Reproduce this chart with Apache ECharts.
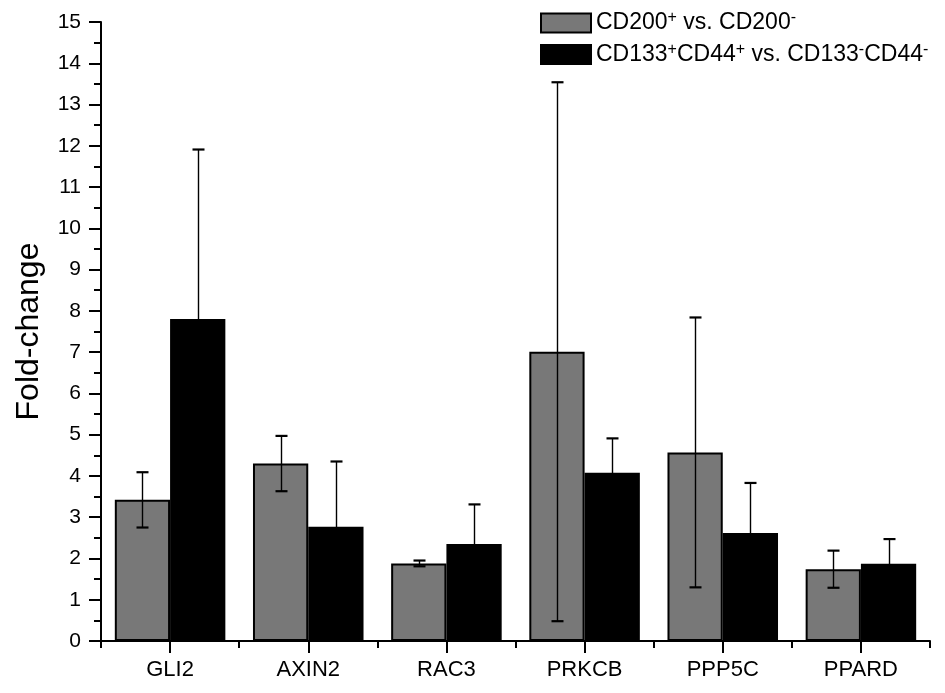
<!DOCTYPE html>
<html>
<head>
<meta charset="utf-8">
<script src="https://cdn.jsdelivr.net/npm/echarts@6/dist/echarts.min.js"></script>
<style>
html,body{margin:0;padding:0;background:#fff;}
#chart{width:945px;height:693px;}
</style>
</head>
<body>
<div id="chart"></div>
<script>
var categories = ['GLI2', 'AXIN2', 'RAC3', 'PRKCB', 'PPP5C', 'PPARD'];
var cd200Values = [3.42, 4.30, 1.88, 7.01, 4.57, 1.74];
var cd200Errors = [0.67, 0.67, 0.07, 6.53, 3.27, 0.45];
var cd133Values = [7.80, 2.77, 2.35, 4.08, 2.62, 1.87];
var cd133Errors = [4.11, 1.58, 0.96, 0.83, 1.21, 0.60];
var yTicks = [0, 15, 1];
var seriesNames = ['CD200+ vs. CD200-', 'CD133+CD44+ vs. CD133-CD44-'];

var FONT = '"Liberation Sans", Arial, sans-serif';
var chart = echarts.init(document.getElementById('chart'));

function errData(vals, errs) {
  return vals.map(function (v, i) { return [i, v, errs[i]]; });
}
function makeErr(side) {
  return function (params, api) {
    var idx = api.value(0), v = api.value(1), e = api.value(2);
    var band = api.size([1, 0])[0];
    var bw = band * 0.4;
    var c = api.coord([idx, v]);
    var x = Math.round(c[0] + side * bw / 2) + 0.5;
    var top = api.coord([idx, v + e])[1];
    var bot = api.coord([idx, v - e])[1];
    var cap = 6;
    return {
      type: 'group',
      children: [
        { type: 'line', shape: { x1: x, y1: top, x2: x, y2: bot }, style: { stroke: '#000', lineWidth: 1.4 } },
        { type: 'line', shape: { x1: x - cap, y1: top, x2: x + cap, y2: top }, style: { stroke: '#000', lineWidth: 2.2 } },
        { type: 'line', shape: { x1: x - cap, y1: bot, x2: x + cap, y2: bot }, style: { stroke: '#000', lineWidth: 2.2 } }
      ]
    };
  };
}

var legendRich = {
  n: { fontSize: 23, fontFamily: FONT, color: '#000' },
  s: { fontSize: 16, fontFamily: FONT, color: '#000', padding: [0, 0, 10, 0] }
};

var option = {
  backgroundColor: '#fff',
  animation: false,
  grid: { left: 101, right: 15, top: 22, bottom: 52, containLabel: false },
  legend: {
    orient: 'vertical',
    left: 535,
    top: 5,
    itemWidth: 50,
    itemHeight: 19,
    itemGap: 7,
    icon: 'rect',
    data: seriesNames,
    itemStyle: { borderColor: '#000', borderWidth: 2 },
    textStyle: { rich: legendRich, fontSize: 23, fontFamily: FONT, color: '#000' },
    formatter: function (name) {
      if (name === seriesNames[0]) {
        return '{n|CD200}{s|+}{n| vs. CD200}{s|-}';
      }
      return '{n|CD133}{s|+}{n|CD44}{s|+}{n| vs. CD133}{s|-}{n|CD44}{s|-}';
    }
  },
  xAxis: [{
    type: 'category',
    data: categories,
    axisLine: { show: true, lineStyle: { color: '#000', width: 2 } },
    axisTick: { show: true, alignWithLabel: true, length: 12, lineStyle: { color: '#000', width: 2 } },
    axisLabel: { color: '#000', fontSize: 22, fontFamily: FONT, margin: 18 }
  }, {
    type: 'category',
    data: categories,
    position: 'bottom',
    axisLine: { show: false },
    axisTick: { show: true, length: 7, lineStyle: { color: '#000', width: 2 } },
    axisLabel: { show: false }
  }],
  yAxis: {
    type: 'value',
    min: yTicks[0],
    max: yTicks[1],
    interval: yTicks[2],
    name: 'Fold-change',
    nameLocation: 'middle',
    nameGap: 56,
    nameTextStyle: { fontSize: 32, fontFamily: FONT, color: '#000' },
    axisLine: { show: true, lineStyle: { color: '#000', width: 2 } },
    axisTick: { show: true, length: 12, lineStyle: { color: '#000', width: 2 } },
    minorTick: { show: true, splitNumber: 2, length: 7, lineStyle: { color: '#000', width: 2 } },
    splitLine: { show: false },
    axisLabel: { color: '#000', fontSize: 21, fontFamily: FONT, margin: 20 }
  },
  series: [{
    name: seriesNames[0],
    type: 'bar',
    data: cd200Values,
    barGap: '0%',
    barCategoryGap: '20%',
    itemStyle: { color: '#787878', borderColor: '#000', borderWidth: 2 }
  }, {
    name: seriesNames[1],
    type: 'bar',
    data: cd133Values,
    barGap: '0%',
    barCategoryGap: '20%',
    itemStyle: { color: '#000', borderColor: '#000', borderWidth: 2 }
  }, {
    type: 'custom',
    renderItem: makeErr(-1),
    data: errData(cd200Values, cd200Errors),
    encode: { x: 0, y: 1 },
    z: 10,
    silent: true
  }, {
    type: 'custom',
    renderItem: makeErr(1),
    data: errData(cd133Values, cd133Errors),
    encode: { x: 0, y: 1 },
    z: 10,
    silent: true
  }]
};
chart.setOption(option);
</script>
</body>
</html>
